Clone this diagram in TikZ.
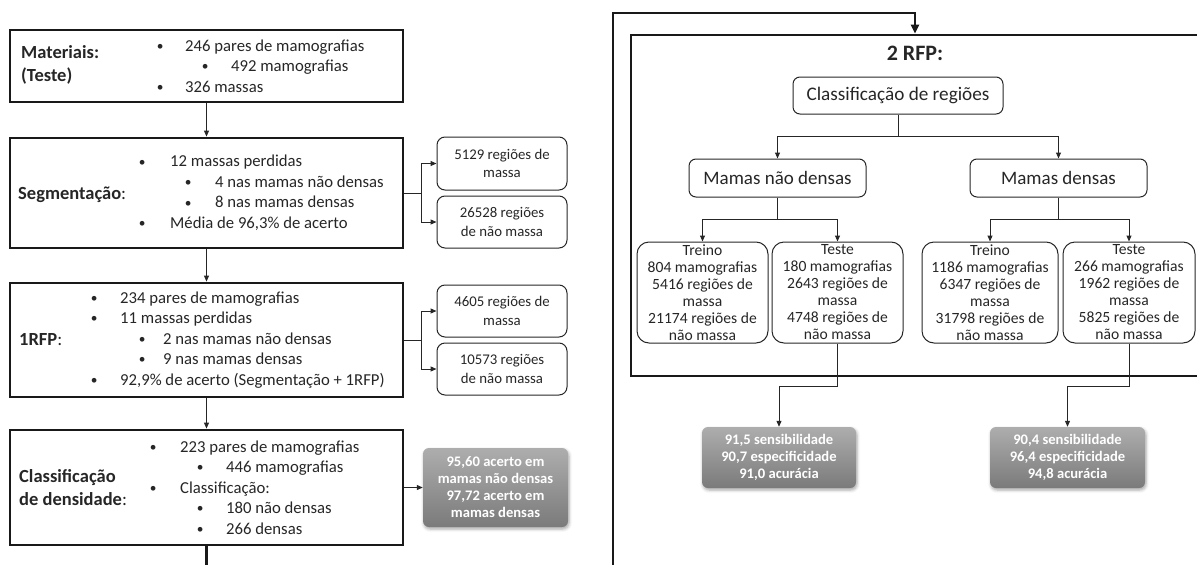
\documentclass[tikz,border=0pt]{standalone}
\usepackage{fontspec}
\setmainfont{Carlito}
\usetikzlibrary{arrows.meta,shadows.blur}
% small list bullet
\newcommand\dotmark{\raisebox{0.9pt}{\scalebox{0.8}{•}}}
% one bullet line: bullet centred at #1, text starting at #2 (offsets from the node's left edge)
\newcommand\listline[3]{\hspace*{#1pt}\makebox[0pt][c]{\dotmark}\hspace*{\dimexpr #2pt - #1pt\relax}#3}
\begin{document}
\begin{tikzpicture}[x=1pt,y=-1pt,
  every node/.style={text=black!85},
  bigbox/.style={draw=black!90,line width=2.8pt,inner sep=0pt,minimum width=393pt},
  boxtitle/.style={anchor=west,inner sep=0pt,align=left,font=\fontsize{18.5}{23}\selectfont},
  blist/.style={anchor=west,inner sep=0pt,align=left,font=\fontsize{16.7}{20.5}\selectfont},
  sidebox/.style={draw=black!85,line width=1pt,rounded corners=8pt,minimum width=130pt,
    minimum height=52pt,inner sep=0pt,align=center,font=\fontsize{14.8}{18.3}\selectfont},
  rbox/.style={draw=black!85,line width=1pt,rounded corners=7pt,inner sep=0pt,align=center,
    minimum height=38pt,font=\fontsize{19}{23}\selectfont},
  tbox/.style={draw=black!85,line width=1pt,rounded corners=12pt,inner sep=0pt,align=center,
    minimum height=101pt,font=\fontsize{15.6}{17}\selectfont},
  gbox/.style={rounded corners=6pt,top color=black!32,bottom color=black!52,text=white,
    inner sep=0pt,align=center,font=\bfseries\fontsize{14.6}{17}\selectfont,
    blur shadow={shadow xshift=1pt,shadow yshift=-2pt,shadow blur radius=3pt,shadow opacity=35}},
  conn/.style={draw=black!85,line width=1pt},
  arr/.style={conn,-{Triangle[length=6pt,width=5pt]}},
  outer/.style={draw=black!90,line width=2.8pt},
  outerarr/.style={outer,-{Triangle[length=9pt,width=8pt]}}
]
\useasboundingbox (0,0) rectangle (1197,565);
\clip (0,0) rectangle (1197,565);

% ---------- left column ----------
\node[bigbox,minimum height=72pt] (mat) at (206.5,66) {};
\node[boxtitle] (matl) at (21,65) {\textbf{Materiais:}\\\textbf{(Teste)}};
\node[blist] (matlist) at (10,66) {\listline{150}{175}{246 pares de mamografias}\\
  \listline{195}{221}{492 mamografias}\\\listline{150}{175}{326 massas}};

\node[bigbox,minimum height=110pt] (seg) at (206.5,193) {};
\node[boxtitle] (segl) at (18,195) {\textbf{Segmentação}:};
\node[blist] (seglist) at (10,193) {\listline{132}{160}{12 massas perdidas}\\
  \listline{178}{205}{4 nas mamas não densas}\\\listline{178}{205}{8 nas mamas densas}\\
  \listline{132}{160}{Média de 96,3\% de acerto}};

\node[bigbox,minimum height=114pt] (rfp1) at (206.5,340) {};
\node[boxtitle] (rfp1l) at (19,340) {\textbf{1RFP}:};
\node[blist] (rfp1list) at (10,340) {\listline{84}{110}{234 pares de mamografias}\\
  \listline{84}{110}{11 massas perdidas}\\\listline{132}{153}{2 nas mamas não densas}\\
  \listline{132}{153}{9 nas mamas densas}\\
  \listline{84}{110}{92,9\% de acerto (Segmentação + 1RFP)}};

\node[bigbox,minimum height=115pt] (cls) at (206.5,487.5) {};
\node[boxtitle] (clsl) at (19,488) {\textbf{Classificação}\\\textbf{de densidade}:};
\node[blist] (clslist) at (10,487.5) {\listline{143}{170}{223 pares de mamografias}\\
  \listline{190}{216}{446 mamografias}\\\listline{143}{170}{Classificação:}\\
  \listline{190}{216}{180 não densas}\\\listline{190}{216}{266 densas}};

\draw[arr] (mat.south) -- (seg.north);
\draw[arr] (seg.south) -- (rfp1.north);
\draw[arr] (rfp1.south) -- (cls.north);

% side results of segmentation and 1RFP
\node[sidebox,minimum height=53pt] (s1) at (502,163.5) {5129 regiões de\\massa};
\node[sidebox] (s2) at (502,222) {26528 regiões\\de não massa};
\node[sidebox] (s3) at (502,311) {4605 regiões de\\massa};
\node[sidebox] (s4) at (502,369) {10573 regiões\\de não massa};
\draw[conn] (seg.east) -- ++(17,0) coordinate (segj);
\draw[arr] (segj) |- (s1.west);
\draw[arr] (segj) |- (s2.west);
\draw[conn] (rfp1.east) -- ++(17,0) coordinate (rfpj);
\draw[arr] (rfpj) |- (s3.west);
\draw[arr] (rfpj) |- (s4.west);

\node[gbox,minimum width=145pt,minimum height=79pt] (g0) at (495.5,487.5)
  {95,60 acerto em\\mamas não densas\\97,72 acerto em\\mamas densas};
\draw[arr] (cls.east) -- (g0.west);

% ---------- right panel: 2 RFP ----------
\node[bigbox,minimum width=568pt,minimum height=341pt] (rfp) at (915,205.5) {};
\coordinate (lend) at (206.5,570);
\draw[outer] (cls.south) -- (lend);
\coordinate (rstart) at (613,570);
\coordinate (rtop) at (613,13);
\draw[outerarr] (rstart) -- (rtop) -| (rfp.north);

\node[font=\bfseries\fontsize{22}{26}\selectfont,inner sep=0pt] (rfpt) at (915,53) {2 RFP:};
\node[rbox,minimum width=210pt,minimum height=37pt,font=\fontsize{19.2}{23}\selectfont] (cr)
  at (898,95.5) {Classificação de regiões};
\node[rbox,minimum width=177pt] (mnd) at (777.5,178) {Mamas não densas};
\node[rbox,minimum width=177pt] (md) at (1058.5,178) {Mamas densas};
\draw[conn] (cr.south) -- ++(0,22) coordinate (crj);
\draw[arr] (crj) -| (mnd.north);
\draw[arr] (crj) -| (md.north);

\node[tbox,minimum width=131pt] (t1) at (702.5,292.5)
  {Treino\\804 mamografias\\5416 regiões de\\massa\\21174 regiões de\\não massa};
\node[tbox,minimum width=131pt] (t2) at (837.5,292.5)
  {Teste\\180 mamografias\\2643 regiões de\\massa\\4748 regiões de\\não massa};
\node[tbox,minimum width=136pt] (t3) at (990,292.5)
  {Treino\\1186 mamografias\\6347 regiões de\\massa\\31798 regiões de\\não massa};
\node[tbox,minimum width=132pt] (t4) at (1129,292.5)
  {Teste\\266 mamografias\\1962 regiões de\\massa\\5825 regiões de\\não massa};
\draw[conn] (mnd.south) -- ++(0,22) coordinate (mj1);
\draw[arr] (mj1) -| (t1.north);
\draw[arr] (mj1) -| (t2.north);
\draw[conn] (md.south) -- ++(0,22) coordinate (mj2);
\draw[arr] (mj2) -| (t3.north);
\draw[arr] (mj2) -| (t4.north);

\node[gbox,minimum width=154pt,minimum height=61pt] (r1) at (779,457.5)
  {91,5 sensibilidade\\90,7 especificidade\\91,0 acurácia};
\node[gbox,minimum width=155pt,minimum height=61pt] (r2) at (1067.5,457.5)
  {90,4 sensibilidade\\96,4 especificidade\\94,8 acurácia};
\draw[arr] (t2.south) -- ++(0,43) -| (r1.north);
\draw[arr] (t4.south) -- ++(0,43) -| (r2.north);
\end{tikzpicture}
\end{document}
